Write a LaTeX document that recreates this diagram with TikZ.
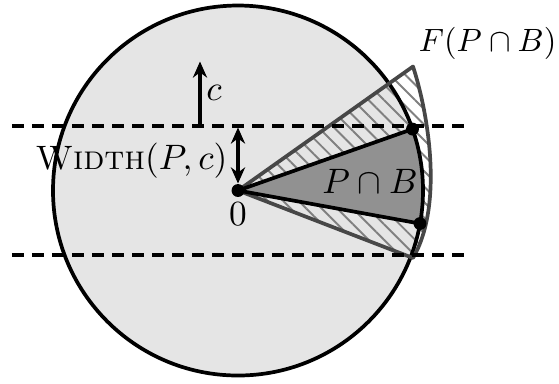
\documentclass[tikz,border=0pt]{standalone}
\usetikzlibrary{arrows.meta,patterns.meta}
\begin{document}
\begin{tikzpicture}[x=0.31pt,y=0.31pt,
  thickline/.style={line width=1.15pt},
  dashline/.style={line width=1.25pt,dash pattern=on 3.8pt off 2.4pt},
  dot/.style={circle,fill=black,inner sep=0pt,minimum size=4pt},
  arr/.style={line width=1.15pt,-{Stealth[length=5pt,width=4.4pt]}},
  darr/.style={line width=1.15pt,{Stealth[length=5pt,width=4.4pt]}-{Stealth[length=5pt,width=4.4pt]}},
  lbl/.style={inner sep=0pt,font=\fontsize{10.5}{12}\selectfont}]
\useasboundingbox (-238,-192.5) rectangle (321,190.5);
\coordinate (O) at (0,0);
\coordinate (U) at (19.4:185);
\coordinate (L) at (-10.3:185);
\coordinate (FU) at (175,124);
\coordinate (FL) at (175,-67.5);
% disc
\fill[black!10] (O) circle[radius=185];
% hatched F(P cap B)
\path[pattern={Lines[angle=-45,distance=3.4pt,line width=0.6pt]},pattern color=black!50]
  (O) -- (FU) .. controls (190,78) and (206,-14) .. (FL) -- cycle;
% sector P cap B
\fill[black!43] (O) -- (L) arc[start angle=-10.3,end angle=19.4,radius=185] -- cycle;
% circle outline
\draw[thickline] (O) circle[radius=185];
% F outline
\draw[thickline,black!72,line join=round] (O) -- (FU) .. controls (190,78) and (206,-14) .. (FL) -- cycle;
% sector radii
\draw[thickline,line join=round] (U) -- (O) -- (L);
% dashed lines
\coordinate (d1l) at (-226,65);
\coordinate (d1r) at (228,65);
\coordinate (d2l) at (-226,-64);
\coordinate (d2r) at (228,-64);
\draw[dashline] (d1l) -- (d1r);
\draw[dashline] (d2l) -- (d2r);
% direction c
\coordinate (cb) at (-38,65);
\coordinate (ct) at (-38,129);
\draw[arr] (cb) -- (ct);
\node[lbl] (clab) at (-24,98) {$c$};
% width arrow
\coordinate (wt) at (0,63);
\coordinate (wb) at (0,7);
\draw[darr] (wb) -- (wt);
\node[lbl,anchor=east] (wlab) at (-10,30) {\textsc{Width}$(P,c)$};
% dots
\node[dot] (o) at (O) {};
\node[dot] (u) at (U) {};
\node[dot] (l) at (L) {};
% labels
\node[lbl] (zero) at (0,-24) {$0$};
\node[lbl] (pb) at (132,9) {$P\cap B$};
\node[lbl,anchor=east,font=\fontsize{10}{12}\selectfont] (fpb) at (319,147) {$F(P\cap B)$};
\end{tikzpicture}
\end{document}
